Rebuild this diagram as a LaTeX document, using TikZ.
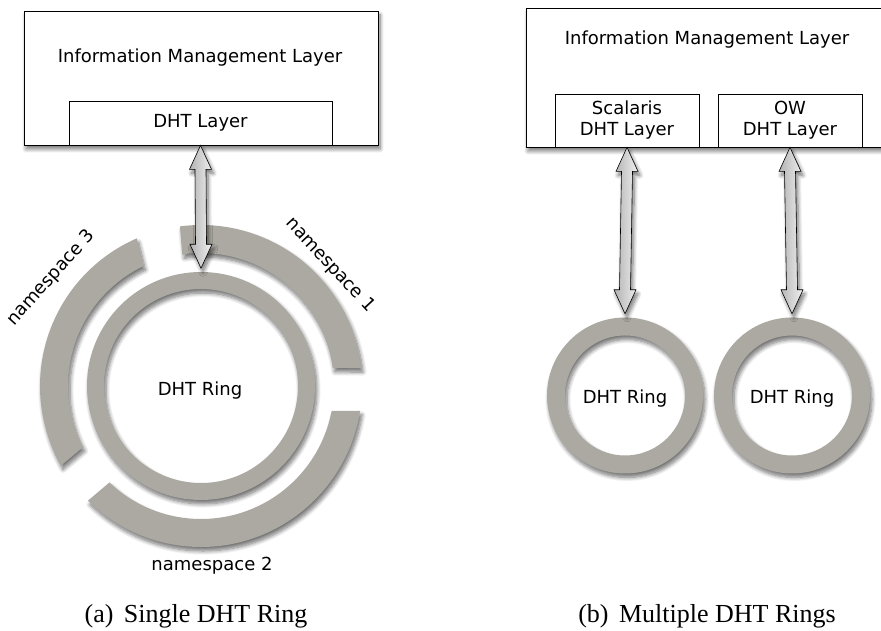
\documentclass[tikz,border=0pt]{standalone}
\usepackage{fontspec}
\setmainfont{DejaVu Sans}
\newfontfamily\captionfont{Liberation Serif}
\usepackage{tikz}
\usetikzlibrary{calc, shadows.blur}
\definecolor{ringGray}{HTML}{ABA9A1}

\tikzset{
    softShadow/.style={blur shadow={shadow xshift=2pt, shadow yshift=-4pt,
        shadow blur radius=4pt, shadow blur steps=8, shadow opacity=55}},
    layerBox/.style={draw, line width=0.8pt, fill=white, inner sep=0pt},
    ringBody/.style={fill=ringGray, softShadow},
    linkArrow/.style={draw, line width=0.6pt, left color=gray!60, right color=gray!12, softShadow},
    lbl/.style={font=\fontsize{18}{21}\selectfont, inner sep=0pt},
    capLbl/.style={font=\captionfont\fontsize{26}{28}\selectfont, inner sep=0pt, anchor=base},
}

\begin{document}
\begin{tikzpicture}[x=1pt, y=1pt]

    \useasboundingbox (0,0) rectangle (881,631);
    \clip (0,0) rectangle (881,631);

    % (a) single ring
    \node[layerBox, softShadow, minimum width=354pt, minimum height=134pt] (imlA) at (201,553) {};
    \node[lbl] (imlAtext) at (200,573) {Information Management Layer};
    \node[layerBox, lbl, minimum width=263pt, minimum height=44pt] (dhtA) at (200.5,508) {DHT Layer};

    \node[circle, minimum size=228pt, inner sep=0pt] (ringA) at (201,245) {};
    \foreach \ao/\bo/\ai/\bi in {97.5/6.4/7.8/98.1, -8.9/-134.6/-133.5/-10.8, 209.6/113.5/115.6/207.4}
        \fill[ringBody] ($(ringA.center)+(\ao:161)$) arc[start angle=\ao, end angle=\bo, radius=161]
            -- ($(ringA.center)+(\ai:133)$) arc[start angle=\ai, end angle=\bi, radius=133] -- cycle;
    % ring = outer circle one way, inner circle the other way
    \fill[ringBody] ($(ringA.center)+(0:114)$) arc[start angle=0, end angle=360, radius=114] -- cycle
        ($(ringA.center)+(0:97)$) arc[start angle=360, end angle=0, radius=97] -- cycle;
    \node[lbl] (ringAtext) at (200,240) {DHT Ring};

    \node[lbl, rotate=-47] (ns1) at (330,366) {namespace 1};
    \node[lbl] (ns2) at (212,65) {namespace 2};
    \node[lbl, rotate=48] (ns3) at (51,353) {namespace 3};

    % (b) multiple rings
    \node[layerBox, softShadow, minimum width=362pt, minimum height=139pt] (imlB) at (707,553.5) {};
    \node[lbl] (imlBtext) at (707,591) {Information Management Layer};
    \node[layerBox, lbl, align=center, minimum width=144pt, minimum height=53pt] (scalarisDht) at (627,510.5) {Scalaris\\DHT Layer};
    \node[layerBox, lbl, align=center, minimum width=144pt, minimum height=53pt] (owDht) at (790,510.5) {OW\\DHT Layer};

    \node[circle, minimum size=156pt, inner sep=0pt] (ringB) at (625,235.5) {};
    \node[circle, minimum size=156pt, inner sep=0pt] (ringC) at (792,235.5) {};
    \foreach \r in {ringB, ringC}
        \fill[ringBody] ($(\r.center)+(0:78)$) arc[start angle=0, end angle=360, radius=78] -- cycle
            ($(\r.center)+(0:60)$) arc[start angle=360, end angle=0, radius=60] -- cycle;
    \node[lbl] (ringBtext) at (625,232) {DHT Ring};
    \node[lbl] (ringCtext) at (792,232) {DHT Ring};

    % double arrows between layers and rings
    \foreach \from/\to in {dhtA/ringA, scalarisDht/ringB, owDht/ringC}
        \draw[linkArrow] let \p1=(\from.south), \p2=($(\to.north)+(0,3.5pt)$) in
            (\x1,\y1) -- (\x1+11pt,\y1-24pt) -- (\x1+5.5pt,\y1-24pt) -- (\x2+5.5pt,\y2+24pt)
            -- (\x2+11pt,\y2+24pt) -- (\x2,\y2) -- (\x2-11pt,\y2+24pt) -- (\x2-5.5pt,\y2+24pt)
            -- (\x1-5.5pt,\y1-24pt) -- (\x1-11pt,\y1-24pt) -- cycle;

    % captions
    \node[capLbl] (capA) at (196,8) {(a)\hskip0.4em Single DHT Ring};
    \node[capLbl] (capB) at (707,8) {(b)\hskip0.4em Multiple DHT Rings};
\end{tikzpicture}
\end{document}
